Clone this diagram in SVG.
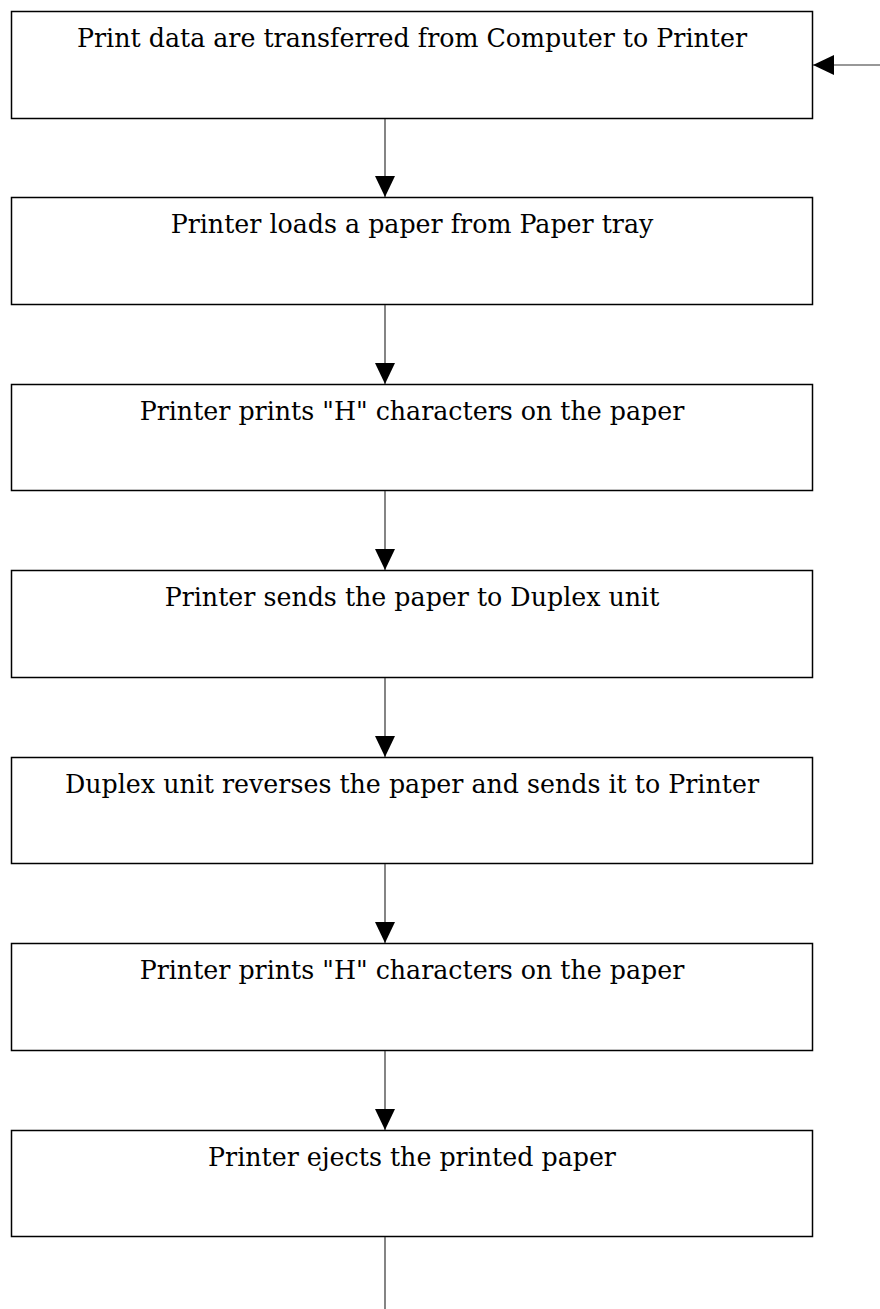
<svg xmlns="http://www.w3.org/2000/svg" width="880" height="1309" viewBox="0 0 880 1309">
<style>
.box{fill:#fff;stroke:#000;stroke-width:1.5}
.lbl{font-family:"DejaVu Serif","Liberation Serif",serif;font-size:25.3px;fill:#000;text-anchor:middle}
.con{stroke:#333;stroke-width:1.2;fill:none}
</style>
<defs>
<marker id="ah" viewBox="0 0 21 20" refX="21" refY="10" markerWidth="21" markerHeight="20" markerUnits="userSpaceOnUse" orient="auto">
<path d="M0,0 L21,10 L0,20 Z" fill="#000"/>
</marker>
</defs>
<rect width="880" height="1309" fill="#fff"/>
<g id="n1"><rect class="box" x="11.5" y="11.5" width="801" height="107"/><text class="lbl" x="412" y="47">Print data are transferred from Computer to Printer</text></g>
<g id="n2"><rect class="box" x="11.5" y="197.5" width="801" height="107"/><text class="lbl" x="412" y="233">Printer loads a paper from Paper tray</text></g>
<g id="n3"><rect class="box" x="11.5" y="384.5" width="801" height="106"/><text class="lbl" x="412" y="420">Printer prints "H" characters on the paper</text></g>
<g id="n4"><rect class="box" x="11.5" y="570.5" width="801" height="107"/><text class="lbl" x="412" y="606">Printer sends the paper to Duplex unit</text></g>
<g id="n5"><rect class="box" x="11.5" y="757.5" width="801" height="106"/><text class="lbl" x="412" y="793">Duplex unit reverses the paper and sends it to Printer</text></g>
<g id="n6"><rect class="box" x="11.5" y="943.5" width="801" height="107"/><text class="lbl" x="412" y="979">Printer prints "H" characters on the paper</text></g>
<g id="n7"><rect class="box" x="11.5" y="1130.5" width="801" height="106"/><text class="lbl" x="412" y="1166">Printer ejects the printed paper</text></g>
<g id="connectors">
<line class="con" x1="385" y1="119" x2="385" y2="197" marker-end="url(#ah)"/>
<line class="con" x1="385" y1="305" x2="385" y2="384" marker-end="url(#ah)"/>
<line class="con" x1="385" y1="491" x2="385" y2="570" marker-end="url(#ah)"/>
<line class="con" x1="385" y1="678" x2="385" y2="757" marker-end="url(#ah)"/>
<line class="con" x1="385" y1="864" x2="385" y2="943" marker-end="url(#ah)"/>
<line class="con" x1="385" y1="1051" x2="385" y2="1130" marker-end="url(#ah)"/>
<line class="con" x1="385" y1="1237" x2="385" y2="1309"/>
<line class="con" x1="880" y1="65" x2="813" y2="65" marker-end="url(#ah)"/>
</g>
</svg>
